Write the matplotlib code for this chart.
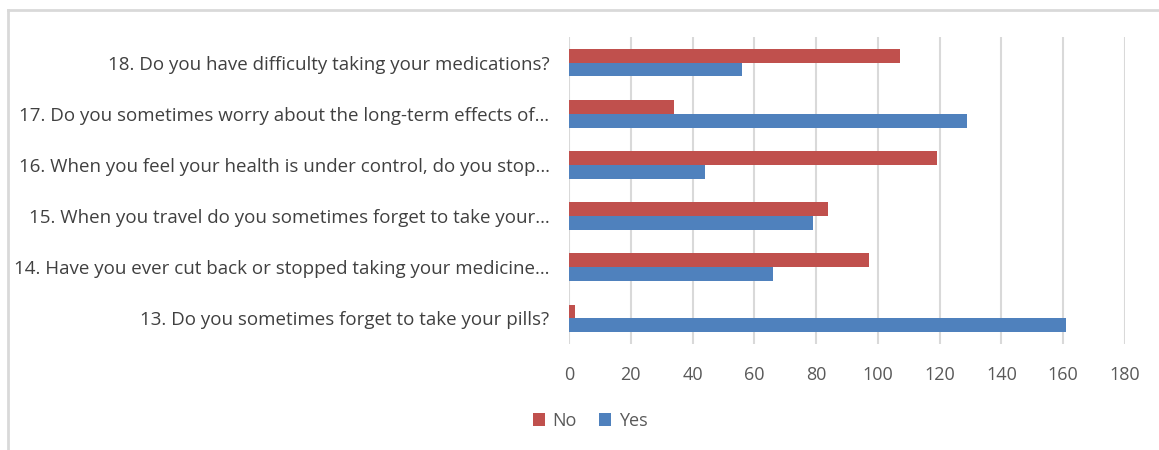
import numpy as np
import matplotlib.pyplot as plt

questions = [
    "13. Do you sometimes forget to take your pills?",
    "14. Have you ever cut back or stopped taking your medicine\u2026",
    "15. When you travel do you sometimes forget to take your\u2026",
    "16. When you feel your health is under control, do you stop\u2026",
    "17. Do you sometimes worry about the long-term effects of\u2026",
    "18. Do you have difficulty taking your medications?",
]
no_counts = [2, 97, 84, 119, 34, 107]
yes_counts = [161, 66, 79, 44, 129, 56]
xticks = [0, 20, 40, 60, 80, 100, 120, 140, 160, 180]

red = "#C0504D"
blue = "#4F81BD"
grid_col = "#d9d9d9"

plt.rcParams['font.family'] = ['Open Sans', 'DejaVu Sans']

fig = plt.figure(figsize=(11.59, 4.5), dpi=100)
ax = fig.add_axes([569 / 1159, 1 - 344 / 450, (1125 - 569) / 1159, (344 - 37) / 450])

y = np.arange(len(questions))
h = 0.27
ax.barh(y + h / 2, no_counts, height=h, color=red, label="No", zorder=3)
ax.barh(y - h / 2, yes_counts, height=h, color=blue, label="Yes", zorder=3)

ax.set_xlim(0, 180)
ax.set_ylim(-0.5, len(questions) - 0.5)
ax.set_xticks(xticks)
ax.set_yticks(y)
ax.set_yticklabels(questions, fontsize=13.5, color="#404040")
ax.tick_params(axis='x', labelsize=13, labelcolor="#595959", length=0, pad=16)
ax.tick_params(axis='y', length=0, pad=14)
ax.grid(axis='x', color=grid_col, linewidth=1.5, zorder=0)
for s in ax.spines.values():
    s.set_visible(False)

# outer chart border (open at right and bottom)
fig.add_artist(plt.Line2D([8 / 1159, 8 / 1159], [0, 1 - 10 / 450],
                          transform=fig.transFigure, color=grid_col, linewidth=2))
fig.add_artist(plt.Line2D([8 / 1159, 1], [1 - 10 / 450, 1 - 10 / 450],
                          transform=fig.transFigure, color=grid_col, linewidth=2))

fig.legend(loc='center', bbox_to_anchor=(590 / 1159, 1 - 421 / 450), ncol=2,
           frameon=False, fontsize=13, labelcolor="#595959",
           handlelength=0.7, handleheight=0.7, handletextpad=0.4, columnspacing=1.2)

fig.savefig("out.png", dpi=100)
